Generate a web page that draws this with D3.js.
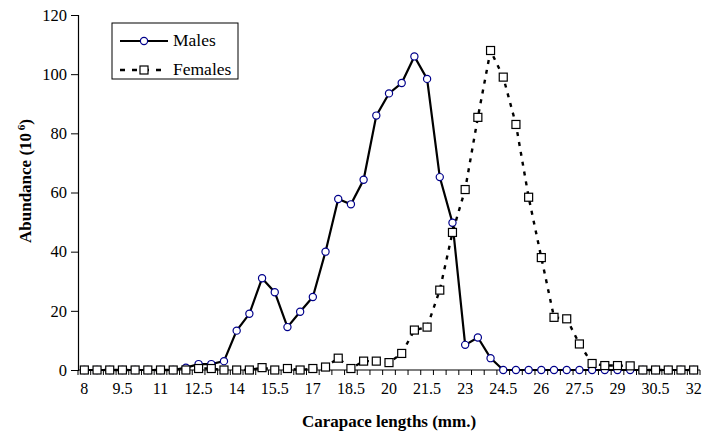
<!DOCTYPE html>
<html>
<head>
<meta charset="utf-8">
<script src="https://cdn.jsdelivr.net/npm/d3@7/dist/d3.min.js"></script>
<style>
  body { margin: 0; background: #fff; }
  svg text { font-family: "Liberation Serif", "Times New Roman", serif; fill: #000; }
</style>
</head>
<body>
<div id="chart"></div>
<script>
// carapace length classes (mm)
var lengths = [8, 8.5, 9, 9.5, 10, 10.5, 11, 11.5, 12, 12.5, 13, 13.5, 14, 14.5, 15, 15.5,
    16, 16.5, 17, 17.5, 18, 18.5, 19, 19.5, 20, 20.5, 21, 21.5, 22, 22.5, 23, 23.5,
    24, 24.5, 25, 25.5, 26, 26.5, 27, 27.5, 28, 28.5, 29, 29.5, 30, 30.5, 31, 31.5, 32];

// abundance (10^6)
var males = [0, 0, 0, 0, 0, 0, 0, 0, 0.8, 2, 2, 3, 13.3, 19, 31, 26.3,
    14.5, 19.7, 24.7, 40, 57.8, 56, 64.3, 86, 93.5, 97, 106, 98.4, 65.2, 49.8, 8.5, 11,
    4, 0, 0, 0, 0, 0, 0, 0, 0, 0, 0, 0, 0, 0, 0, 0, 0];
var females = [0, 0, 0, 0, 0, 0, 0, 0, 0, 0.5, 0.5, 0, 0, 0, 0.8, 0,
    0.5, 0, 0.5, 1, 4, 0.5, 3, 3, 2.5, 5.6, 13.5, 14.5, 27, 46.5, 61, 85.4,
    108, 99, 83, 58.4, 38, 17.8, 17.3, 8.8, 2.2, 1.5, 1.5, 1.4, 0, 0, 0, 0, 0];

var xLabels = [8, 9.5, 11, 12.5, 14, 15.5, 17, 18.5, 20, 21.5, 23, 24.5, 26, 27.5, 29, 30.5, 32];
var yTicks = [0, 20, 40, 60, 80, 100, 120];

var width = 705, height = 441;
var svg = d3.select("#chart").append("svg")
    .attr("width", width)
    .attr("height", height);

var x = d3.scaleBand()
    .domain(lengths)
    .range([78, 700]);

var y = d3.scaleLinear()
    .domain([0, 120])
    .range([370, 15]);

var cx = function(d){ return x(d) + x.bandwidth() / 2; };

// y axis
var yAxis = d3.axisLeft(y).tickValues(yTicks).tickSize(7).tickPadding(4);
var gy = svg.append("g")
    .attr("transform", "translate(78,0)")
    .call(yAxis);
gy.select(".domain").attr("stroke", "#000").attr("stroke-width", 1.2);
gy.selectAll(".tick line").attr("stroke", "#000");
gy.selectAll("text").style("font-size", "16.5px").style("font-family", "Liberation Serif, serif");

// x axis : labels every 3rd class, ticks at class borders
var xAxis = d3.axisBottom(x).tickValues(xLabels).tickSize(0).tickPadding(13);
var gx = svg.append("g")
    .attr("transform", "translate(0,370)")
    .call(xAxis);
gx.select(".domain").attr("stroke", "#000").attr("stroke-width", 1.2).attr("d", "M78,0H700");
gx.selectAll("text").style("font-size", "16px").style("font-family", "Liberation Serif, serif");

svg.append("g").selectAll("line")
    .data(lengths.concat(["end"]))
    .enter().append("line")
    .attr("x1", function(d){ return d === "end" ? x.range()[1] : x(d); })
    .attr("x2", function(d){ return d === "end" ? x.range()[1] : x(d); })
    .attr("y1", 370)
    .attr("y2", 375)
    .attr("stroke", "#000");

// axis titles
svg.append("text")
    .attr("x", 389)
    .attr("y", 427)
    .attr("text-anchor", "middle")
    .style("font-size", "17px")
    .style("font-weight", "bold")
    .text("Carapace lengths (mm.)");

var yt = svg.append("text")
    .attr("transform", "translate(31,181) rotate(-90)")
    .attr("text-anchor", "middle")
    .style("font-size", "17px")
    .style("font-weight", "bold");
yt.append("tspan").text("Abundance (10");
yt.append("tspan").attr("dy", -6).style("font-size", "11px").text(" 6");
yt.append("tspan").attr("dy", 6).text(")");

// lines
var line = d3.line()
    .x(function(d){ return cx(d[0]); })
    .y(function(d){ return y(d[1]); });

var maleData = lengths.map(function(d, i){ return [d, males[i]]; });
var femaleData = lengths.map(function(d, i){ return [d, females[i]]; });

svg.append("path")
    .datum(maleData)
    .attr("d", line)
    .attr("fill", "none")
    .attr("stroke", "#000")
    .attr("stroke-width", 2.2);

svg.selectAll(".male")
    .data(maleData)
    .enter().append("circle")
    .attr("class", "male")
    .attr("cx", function(d){ return cx(d[0]); })
    .attr("cy", function(d){ return y(d[1]); })
    .attr("r", 3.6)
    .attr("fill", "#fff")
    .attr("stroke", "#00008b")
    .attr("stroke-width", 1.2);

svg.append("path")
    .datum(femaleData)
    .attr("d", line)
    .attr("fill", "none")
    .attr("stroke", "#000")
    .attr("stroke-width", 2.4)
    .attr("stroke-dasharray", "4,6");

svg.selectAll(".female")
    .data(femaleData)
    .enter().append("rect")
    .attr("class", "female")
    .attr("x", function(d){ return cx(d[0]) - 4; })
    .attr("y", function(d){ return y(d[1]) - 4; })
    .attr("width", 8)
    .attr("height", 8)
    .attr("fill", "#fff")
    .attr("stroke", "#000")
    .attr("stroke-width", 1.2);

// legend
var legend = svg.append("g").attr("transform", "translate(112,23)");
legend.append("rect")
    .attr("width", 126)
    .attr("height", 56)
    .attr("fill", "#fff")
    .attr("stroke", "#000")
    .attr("stroke-width", 1);

legend.append("line")
    .attr("x1", 8).attr("x2", 56).attr("y1", 18).attr("y2", 18)
    .attr("stroke", "#000").attr("stroke-width", 2.2);
legend.append("circle")
    .attr("cx", 32).attr("cy", 18).attr("r", 3.6)
    .attr("fill", "#fff").attr("stroke", "#00008b").attr("stroke-width", 1.2);
legend.append("text")
    .attr("x", 61).attr("y", 23)
    .style("font-size", "17.5px")
    .text("Males");

legend.append("line")
    .attr("x1", 8).attr("x2", 56).attr("y1", 47).attr("y2", 47)
    .attr("stroke", "#000").attr("stroke-width", 2.4)
    .attr("stroke-dasharray", "5,7");
legend.append("rect")
    .attr("x", 28).attr("y", 43).attr("width", 8).attr("height", 8)
    .attr("fill", "#fff").attr("stroke", "#000").attr("stroke-width", 1.2);
legend.append("text")
    .attr("x", 61).attr("y", 52)
    .style("font-size", "17.5px")
    .text("Females");
</script>
</body>
</html>
